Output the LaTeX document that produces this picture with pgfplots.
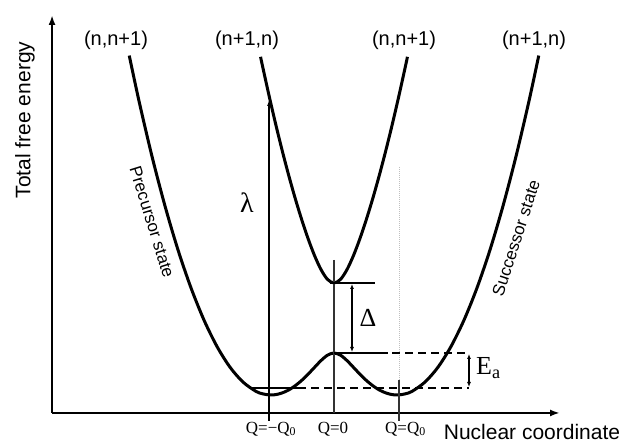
\documentclass[border=0pt]{standalone}
\usepackage{pgfplots}
\pgfplotsset{compat=1.18}
\usepackage{fontspec}
\setmainfont{Liberation Sans}
\newfontfamily\serif{Liberation Serif}
\usetikzlibrary{arrows.meta}
\begin{document}
\begin{tikzpicture}
\begin{axis}[
  scale only axis, width=508pt, height=398pt,
  xmin=-4.338, xmax=3.477, ymin=0, ymax=398,
  axis lines=left, ticks=none,
  axis line style={line width=2.4pt, -{Latex[length=10pt,width=7pt]}},
  clip=false,
]
% lower (ground) surface
\addplot[black, line width=3pt, smooth, mark=none] coordinates {
  (-3.15,357.4) (-3.0,312.0) (-2.8,256.6) (-2.6,207.0) (-2.4,163.1)
  (-2.2,125.1) (-2.0,92.9) (-1.8,66.5) (-1.6,45.8) (-1.4,30.9)
  (-1.2,21.6) (-1.1,19.2) (-1.0,18.1) (-0.9,18.3) (-0.8,20.0)
  (-0.7,22.9) (-0.6,27.1) (-0.5,32.4) (-0.4,38.7) (-0.3,45.6)
  (-0.2,52.4) (-0.1,57.8) (0,60)
  (0.1,57.8) (0.2,52.4) (0.3,45.6) (0.4,38.7) (0.5,32.4)
  (0.6,27.1) (0.7,22.9) (0.8,20.0) (0.9,18.3) (1.0,18.1)
  (1.1,19.2) (1.2,21.6) (1.4,30.9) (1.6,45.8) (1.8,66.5)
  (2.0,92.9) (2.2,125.1) (2.4,163.1) (2.6,207.0) (2.8,256.6)
  (3.0,312.0) (3.15,357.4)
};
% upper (excited) surface
\addplot[black, line width=3pt, smooth, mark=none] coordinates {
  (-1.13,356.2) (-1.1,347.0) (-1.0,317.6) (-0.9,289.6) (-0.8,263.2)
  (-0.7,238.4) (-0.6,215.3) (-0.5,194.0) (-0.4,174.6) (-0.3,157.5)
  (-0.2,143.4) (-0.1,133.6) (0,130)
  (0.1,133.6) (0.2,143.4) (0.3,157.5) (0.4,174.6) (0.5,194.0)
  (0.6,215.3) (0.7,238.4) (0.8,263.2) (0.9,289.6) (1.0,317.6)
  (1.1,347.0) (1.13,356.2)
};

% guide lines
\draw[black!25, densely dotted, line width=1pt] (1.0,246) -- (1.0,33);
\draw[black!80, line width=1.1pt] (1.0,33) -- (1.0,-8);
\draw[black!80, line width=1.1pt] (0,153) -- (0,0);
\draw[line width=1.8pt, -{Latex[length=6pt,width=4pt]}] (-1,-8) -- (-1,313);

% levels
\draw[line width=2pt] (-1.27,25) -- (-0.55,25);
\draw[line width=2pt, dash pattern=on 8pt off 5pt] (-0.55,25) -- (2.077,25);
\draw[line width=2pt] (0,60) -- (0.7,60);
\draw[line width=2pt, dash pattern=on 8pt off 5pt] (0.7,60) -- (2.077,60);
\draw[line width=2pt] (-0.06,130) -- (0.63,130);

% arrows
\draw[line width=1.2pt, {Latex[length=5pt,width=4pt]}-{Latex[length=5pt,width=4pt]}] (0.277,129) -- (0.277,61);
\draw[line width=1.2pt, {Latex[length=5pt,width=4pt]}-{Latex[length=5pt,width=4pt]}] (2.077,59) -- (2.077,26);

% text
\node[font=\fontsize{21}{25}\selectfont, rotate=90] at (-4.754,293) {Total free energy};
\node[font=\fontsize{21}{25}\selectfont] at (3.046,-19) {Nuclear coordinate};
\node[font=\fontsize{20}{24}\selectfont] at (-3.354,373) {(n,n+1)};
\node[font=\fontsize{20}{24}\selectfont] at (-1.338,373) {(n+1,n)};
\node[font=\fontsize{20}{24}\selectfont] at (1.077,373) {(n,n+1)};
\node[font=\fontsize{20}{24}\selectfont] at (3.077,373) {(n+1,n)};
\node[font=\fontsize{17}{20}\selectfont, rotate=-72.7] at (-2.80,191) {Precursor state};
\node[font=\fontsize{17}{20}\selectfont, rotate=72] at (2.8,175) {Successor state};
\node[font=\serif\fontsize{28}{32}\selectfont] at (-1.338,210) {λ};
\node[font=\serif\fontsize{26}{30}\selectfont] at (0.523,95) {Δ};
\node[font=\serif\fontsize{26}{30}\selectfont, anchor=west, inner sep=0pt] at (2.185,45) {E\textsubscript{a}};
\node[font=\serif\fontsize{17}{20}\selectfont] at (-0.969,-16) {Q=−Q\textsubscript{0}};
\node[font=\serif\fontsize{17}{20}\selectfont] at (-0.015,-16) {Q=0};
\node[font=\serif\fontsize{17}{20}\selectfont] at (1.1,-16) {Q=Q\textsubscript{0}};

\coordinate (bl) at (-5.1385,-31);
\coordinate (tr) at (4.6308,413);
\end{axis}
\pgfresetboundingbox
\path[use as bounding box] (bl) rectangle (tr);
\end{tikzpicture}
\end{document}
